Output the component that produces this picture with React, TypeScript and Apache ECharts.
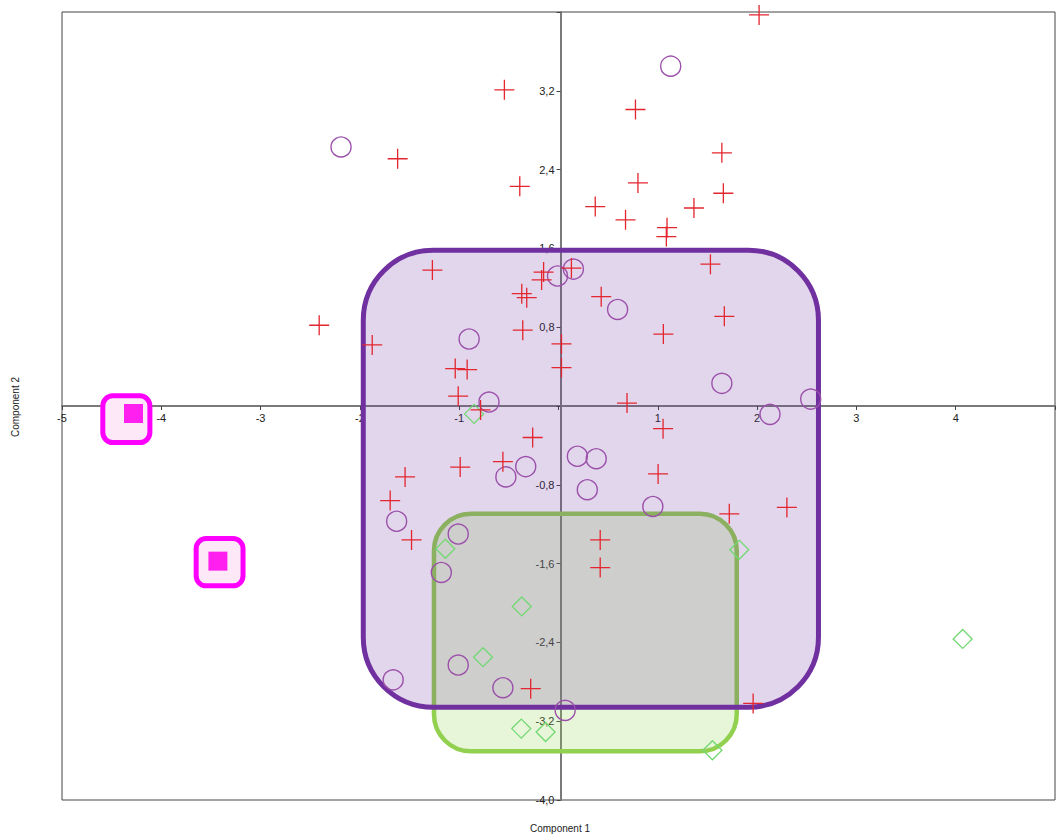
import React, { useEffect, useRef } from "react";
import * as echarts from "echarts";

// Group A (red crosses)
const crossPoints: [number, number][] = [
  [2.02, 3.97], [-0.545, 3.21], [-1.62, 2.51], [-0.39, 2.23], [0.775, 3.01],
  [0.8, 2.265], [1.645, 2.57], [1.66, 2.16], [0.37, 2.025], [0.675, 1.89],
  [1.364, 2.01], [1.093, 1.81], [1.086, 1.72], [-2.41, 0.82], [-1.876, 0.62],
  [-1.27, 1.38], [-0.15, 1.36], [-0.17, 1.28], [-0.37, 1.14], [-0.32, 1.1],
  [-0.36, 0.77], [0.03, 0.63], [0.03, 0.39], [-1.04, 0.38], [-0.92, 0.37],
  [-1.01, 0.1], [-0.785, -0.04], [0.13, 1.4], [0.43, 1.11], [1.53, 1.44],
  [1.67, 0.91], [1.056, 0.73], [0.69, 0.03], [1.053, -0.23], [1.003, -0.69],
  [1.72, -1.095], [2.3, -1.03], [0.42, -1.36], [0.42, -1.64], [-0.26, -0.32],
  [-0.56, -0.565], [-0.99, -0.62], [-1.545, -0.72], [-1.695, -0.96], [-1.48, -1.36],
  [-0.28, -2.87], [1.96, -3.02],
];

// Group B (purple circles)
const circlePoints: [number, number][] = [
  [-2.19, 2.63], [1.13, 3.45], [-0.01, 1.32], [0.15, 1.39], [0.595, 0.98],
  [-0.9, 0.68], [-0.7, 0.04], [1.645, 0.23], [2.54, 0.07], [2.13, -0.085],
  [0.19, -0.51], [0.38, -0.535], [0.29, -0.85], [0.95, -1.02], [-0.33, -0.615],
  [-0.53, -0.72], [-1.63, -1.17], [-1.01, -1.3], [-1.18, -1.69], [-1.01, -2.63],
  [-1.665, -2.78], [-0.56, -2.86], [0.067, -3.09],
];

// Group C (green diamonds)
const diamondPoints: [number, number][] = [
  [-0.85, -0.08], [-1.14, -1.45], [-0.37, -2.035], [-0.76, -2.55], [-0.375, -3.275],
  [-0.13, -3.31], [1.55, -3.495], [1.82, -1.46], [4.07, -2.365],
];

// Selected points (magenta squares)
const selectedPoints: [number, number][] = [
  [-4.28, -0.076], [-3.43, -1.575],
];

// Highlight boxes: [x1, y1, x2, y2]
const purpleBox: number[][] = [[-1.966, 1.582, 2.618, -3.058]];
const greenBox: number[][] = [[-1.254, -1.095, 1.795, -3.506]];
const selectionBoxes: number[][] = [
  [-4.589, 0.103, -4.115, -0.371],
  [-3.649, -1.345, -3.177, -1.826],
];

const X_MIN = -5, X_MAX = 5, X_STEP = 1;
const Y_MIN = -4, Y_MAX = 4, Y_STEP = 0.8;
const xTitle = "Component 1";
const yTitle = "Component 2";

const FONT = "'Liberation Sans', Arial, sans-serif";
const GRID_LEFT = 62, GRID_TOP = 12, GRID_W = 997, GRID_H = 788;

function boxSeries(name: string, data: number[][], stroke: string, fill: string, lineWidth: number, radius: number, z: number) {
  return {
    type: "custom",
    name,
    z,
    silent: true,
    coordinateSystem: "cartesian2d",
    encode: { x: [0, 2], y: [1, 3] },
    data,
    renderItem: (_params: any, api: any) => {
      const p1 = api.coord([api.value(0), api.value(1)]);
      const p2 = api.coord([api.value(2), api.value(3)]);
      return {
        type: "rect",
        shape: {
          x: Math.min(p1[0], p2[0]),
          y: Math.min(p1[1], p2[1]),
          width: Math.abs(p2[0] - p1[0]),
          height: Math.abs(p2[1] - p1[1]),
          r: radius,
        },
        style: { fill, stroke, lineWidth },
      };
    },
  };
}

export default function App() {
  const ref = useRef<HTMLDivElement>(null);

  useEffect(() => {
    if (!ref.current) return;
    const chart = echarts.init(ref.current, null, { renderer: "svg" });
    // move the axes so they cross at the origin
    const xAxisOffset = -(GRID_H * (0 - Y_MIN)) / (Y_MAX - Y_MIN);
    const yAxisOffset = -(GRID_W * (0 - X_MIN)) / (X_MAX - X_MIN);
    const option: any = {
      animation: false,
      backgroundColor: "#ffffff",
      grid: {
        left: GRID_LEFT,
        top: GRID_TOP,
        width: GRID_W,
        height: GRID_H,
        show: true,
        borderColor: "#444",
        borderWidth: 1,
      },
      xAxis: {
        type: "value",
        min: X_MIN,
        max: X_MAX,
        interval: X_STEP,
        position: "bottom",
        offset: xAxisOffset,
        axisLine: { show: true, onZero: false, lineStyle: { color: "#7a7a7a", width: 2 } },
        axisTick: { show: true, length: 4, lineStyle: { color: "#444" } },
        axisLabel: {
          margin: 6,
          fontSize: 11,
          color: "#222",
          fontFamily: FONT,
          formatter: (v: number) => (Math.abs(v) < 1e-9 || Math.abs(v - X_MAX) < 1e-9 ? "" : String(v)),
        },
        splitLine: { show: false },
      },
      yAxis: {
        type: "value",
        min: Y_MIN,
        max: Y_MAX,
        interval: Y_STEP,
        position: "left",
        offset: yAxisOffset,
        axisLine: { show: true, onZero: false, lineStyle: { color: "#7a7a7a", width: 2 } },
        axisTick: { show: true, length: 4, lineStyle: { color: "#444" } },
        axisLabel: {
          margin: 6,
          fontSize: 11,
          color: "#222",
          fontFamily: FONT,
          formatter: (v: number) =>
            Math.abs(v) < 1e-9 || Math.abs(v - Y_MAX) < 1e-9 ? "" : v.toFixed(1).replace(".", ","),
        },
        splitLine: { show: false },
      },
      graphic: [
        {
          type: "text",
          left: 530,
          top: 823,
          style: { text: xTitle, fontSize: 10, fill: "#222", font: `10px ${FONT}` },
        },
        {
          type: "text",
          x: 10,
          y: 437,
          rotation: Math.PI / 2,
          style: { text: yTitle, fontSize: 10, fill: "#222", font: `10px ${FONT}` },
        },
      ],
      series: [
        boxSeries("greenBox", greenBox, "#92d050", "rgba(146,208,80,0.22)", 4.5, 37, 2),
        boxSeries("purpleBox", purpleBox, "#7030a0", "rgba(112,48,160,0.2)", 5, 70, 3),
        boxSeries("selectionBoxes", selectionBoxes, "#ff00ff", "#fde8f7", 5, 10, 4),
        {
          type: "scatter",
          name: "Selected",
          z: 5,
          data: selectedPoints,
          symbol: "rect",
          symbolSize: 19,
          itemStyle: { color: "#ff20f0", opacity: 1 },
        },
        {
          type: "scatter",
          name: "Group C",
          z: 6,
          data: diamondPoints,
          symbol: "diamond",
          symbolSize: 19,
          itemStyle: { color: "transparent", borderColor: "#72d872", borderWidth: 1.3, opacity: 1 },
        },
        {
          type: "scatter",
          name: "Group B",
          z: 7,
          data: circlePoints,
          symbol: "circle",
          symbolSize: 20,
          itemStyle: { color: "transparent", borderColor: "#9b50aa", borderWidth: 1.4, opacity: 1 },
        },
        {
          type: "scatter",
          name: "Group A",
          z: 8,
          data: crossPoints,
          symbol: "path://M0,10L20,10M10,0L10,20",
          symbolSize: 20,
          itemStyle: { color: "transparent", borderColor: "#e3262f", borderWidth: 1.3, opacity: 1 },
        },
      ],
    };
    chart.setOption(option);
    return () => chart.dispose();
  }, []);

  return (
    <div
      ref={ref}
      style={{ position: "absolute", left: 0, top: 0, width: 1058, height: 838, background: "#fff" }}
    />
  );
}
